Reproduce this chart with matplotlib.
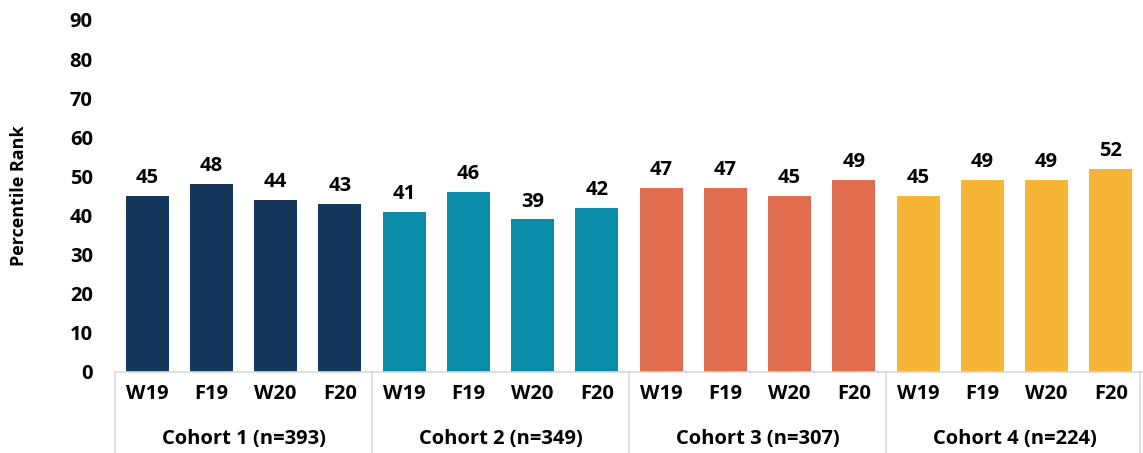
import matplotlib
matplotlib.use('Agg')
import matplotlib.pyplot as plt
import matplotlib.transforms as mtransforms
import numpy as np

# data
cohorts = ['Cohort 1 (n=393)', 'Cohort 2 (n=349)', 'Cohort 3 (n=307)', 'Cohort 4 (n=224)']
waves = ['W19', 'F19', 'W20', 'F20']
cohort1 = [45, 48, 44, 43]
cohort2 = [41, 46, 39, 42]
cohort3 = [47, 47, 45, 49]
cohort4 = [45, 49, 49, 52]
colors = ['#15365B', '#0A8BA9', '#E06D4D', '#F6B537']

plt.rcParams['font.family'] = ['Open Sans', 'DejaVu Sans']
plt.rcParams['font.weight'] = 'bold'
FS = 14.5

fig = plt.figure(figsize=(11.43, 4.53), dpi=100)
ax = fig.add_axes([0.1006, 0.179, 0.8994, 0.777])

values = [cohort1, cohort2, cohort3, cohort4]
for g, vals in enumerate(values):
    xs = np.arange(len(vals)) + g * len(waves)
    ax.bar(xs, vals, width=0.67, color=colors[g], zorder=2)
    for x, v in zip(xs, vals):
        ax.text(x, v + 2.0, str(v), ha='center', va='bottom', fontsize=FS, fontweight='bold')

ax.set_xlim(-0.5, len(waves) * len(cohorts) - 0.5)
ax.set_ylim(0, 90)
ax.set_yticks(range(0, 91, 10))
ax.tick_params(axis='y', length=0, labelsize=FS, pad=16)
for lab in ax.get_yticklabels():
    lab.set_fontweight('bold')

ax.set_xticks(np.arange(16))
ax.set_xticklabels(waves * 4, fontsize=FS, fontweight='bold')
ax.tick_params(axis='x', length=0, pad=9)

for s in ['top', 'right', 'left']:
    ax.spines[s].set_visible(False)
ax.spines['bottom'].set_color('#d9d9d9')
ax.spines['bottom'].set_linewidth(1.2)

trans = mtransforms.blended_transform_factory(ax.transData, ax.transAxes)
for xb in [-0.5, 3.5, 7.5, 11.5, 15.45]:
    ax.plot([xb, xb], [0, -0.25], transform=trans, color='#d9d9d9', lw=1.2, clip_on=False)
for g, name in enumerate(cohorts):
    ax.text(g * 4 + 1.5, -0.19, name, transform=trans, ha='center', va='center',
            fontsize=FS, fontweight='bold')

ax.set_ylabel('Percentile Rank', fontsize=13, fontweight='bold', labelpad=30)

fig.savefig('out.png', dpi=100)
